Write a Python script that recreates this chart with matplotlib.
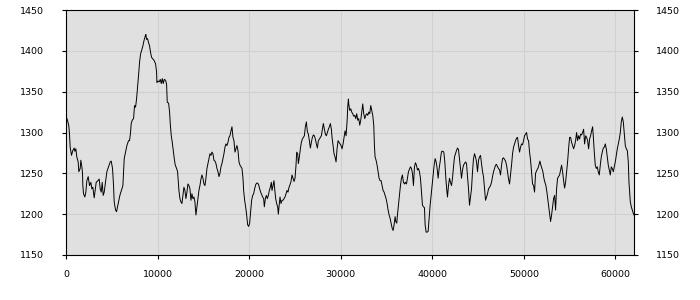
import matplotlib
matplotlib.use("Agg")
import matplotlib.pyplot as plt

# valores (posição, valor)
x = [0, 164, 310, 383, 456, 601, 747, 893, 966, 1075, 1184, 1330, 1403, 1549, 1621, 1731, 1803, 1840,
     1913, 2058, 2168, 2277, 2423, 2569, 2714, 2824, 2933, 3079, 3188, 3297, 3479, 3625, 3734, 3844,
     3953, 4062, 4172, 4317, 4463, 4645, 4827, 4937, 5082, 5192, 5264, 5410, 5519, 5665, 5774, 5884,
     5993, 6102, 6212, 6357, 6503, 6649, 6831, 6940, 7050, 7122, 7232, 7377, 7487, 7596, 7705, 7814,
     7924, 8033, 8142, 8288, 8397, 8507, 8652, 8725, 8798, 8907, 9017, 9126, 9236, 9345, 9490, 9636,
     9782, 9891, 9928, 10037, 10183,
     10292, 10402, 10511, 10620, 10730, 10875, 10985, 11057, 11203, 11312, 11385, 11495, 11604, 11713,
     11823, 11932, 12078, 12187, 12260, 12333, 12442, 12551, 12660, 12770, 12879, 12988, 13098, 13207,
     13316, 13425, 13535, 13644, 13753, 13863, 13972, 14081, 14190, 14300, 14409, 14518, 14628, 14737,
     14846, 14955, 15065, 15174, 15283, 15393, 15502, 15611, 15721, 15830, 15939, 16048, 16158, 16267,
     16376, 16486, 16595, 16704, 16813, 16923, 17032, 17141, 17251, 17360, 17469, 17578, 17688, 17797,
     17906, 18016, 18125, 18234, 18343, 18453, 18562, 18671, 18781, 18890, 18999, 19108, 19218, 19327,
     19400, 19509, 19619, 19728, 19837, 19946, 20056, 20165, 20274, 20384, 20493,
     20603, 20712, 20821, 20931, 21040, 21149, 21259, 21368, 21477, 21586, 21659, 21769, 21878, 21987,
     22097, 22206, 22315, 22424, 22497, 22607, 22716, 22789, 22898, 23007, 23117, 23189, 23262, 23372,
     23481, 23590, 23699, 23809, 23918, 24027, 24137, 24246, 24355, 24464, 24574, 24683, 24792, 24902,
     25011, 25120, 25193, 25302, 25375, 25484, 25594, 25703, 25812, 25922, 26031, 26140, 26250, 26359,
     26468, 26577, 26687, 26796, 26905, 27015, 27124, 27233, 27342, 27452, 27561, 27670, 27780, 27889,
     27998, 28107, 28217, 28326, 28435, 28545, 28654, 28763, 28872, 28982, 29055, 29164, 29273, 29383,
     29492, 29601, 29710, 29820, 29929, 30038, 30148, 30257, 30366, 30475, 30585, 30694, 30767,
     30840, 30877, 30986, 31095, 31205, 31314, 31423, 31533, 31642, 31751, 31860, 31970, 32079, 32188,
     32298, 32407, 32516, 32626, 32735, 32844, 32953, 33063, 33172, 33281, 33391, 33500, 33609, 33682,
     33755, 33864, 33973, 34083, 34192, 34301, 34411, 34520, 34629, 34738, 34848, 34957, 35066, 35176,
     35285, 35394, 35503, 35613, 35722, 35831, 35941, 36014, 36123, 36196, 36305, 36414, 36524, 36633,
     36742, 36852, 36961, 37070, 37180, 37289, 37398, 37507, 37617, 37726, 37835, 37945, 38054, 38163,
     38272, 38382, 38491, 38600, 38709, 38819, 38928, 39037, 39146, 39219, 39329, 39438, 39547, 39657,
     39766, 39875, 39985, 40094, 40203, 40312, 40422, 40531, 40640, 40750, 40859, 40968, 41041,
     41152, 41261, 41370, 41480, 41589, 41662, 41771, 41880, 41990, 42099, 42208, 42318, 42427, 42536,
     42646, 42755, 42864, 42973, 43083, 43192, 43301, 43411, 43520, 43629, 43738, 43848, 43957, 44066,
     44176, 44285, 44394, 44503, 44613, 44722, 44831, 44941, 45050, 45159, 45268, 45378, 45487, 45596,
     45706, 45815, 45924, 46033, 46143, 46252, 46361, 46471, 46580, 46689, 46799, 46908, 47017, 47126,
     47236, 47345, 47454, 47564, 47673, 47782, 47891, 48001, 48110, 48219, 48329, 48438, 48547, 48656,
     48766, 48875, 48984, 49094, 49203, 49312, 49421, 49531, 49640, 49749, 49859, 49968, 50077, 50187,
     50296, 50405, 50514, 50624, 50733, 50842, 50952, 51061, 51170, 51279,
     51426, 51535, 51644, 51754, 51863, 51972, 52082, 52191, 52300, 52409, 52519, 52628, 52737, 52847,
     52920, 53029, 53138, 53247, 53357, 53466, 53575, 53685, 53794, 53903, 54012, 54122, 54231, 54340,
     54450, 54559, 54668, 54777, 54887, 54996, 55105, 55215, 55324, 55433, 55542, 55652, 55761, 55870,
     55980, 56089, 56198, 56307, 56417, 56526, 56635, 56745, 56854, 56963, 57073, 57182, 57291, 57400,
     57510, 57583, 57692, 57801, 57911, 58020, 58129, 58238, 58348, 58457, 58566, 58676, 58785, 58894,
     59003, 59113, 59222, 59331, 59440, 59550, 59659, 59768, 59878, 59987, 60096, 60206, 60315, 60424,
     60534, 60643, 60752, 60861, 60971, 61080, 61189, 61298, 61408, 61481, 61554, 61627, 61736, 61845,
     61955, 62027]

y = [1320, 1315, 1308, 1298, 1282, 1272, 1278, 1281, 1277, 1280, 1270, 1264, 1252, 1256, 1266, 1258, 1250, 1235,
     1225, 1221, 1227, 1241, 1246, 1235, 1239, 1231, 1233, 1220, 1229, 1239, 1241, 1243, 1231, 1227,
     1239, 1223, 1227, 1239, 1252, 1258, 1264, 1265, 1256, 1235, 1215, 1205, 1203, 1211, 1217, 1223,
     1227, 1231, 1235, 1268, 1276, 1284, 1290, 1290, 1300, 1311, 1315, 1317, 1333, 1331, 1341, 1355,
     1370, 1386, 1396, 1402, 1406, 1412, 1418, 1420, 1414, 1415, 1410, 1406, 1398, 1392, 1390, 1388,
     1384, 1374, 1361, 1363, 1362,
     1365, 1360, 1366, 1360, 1365, 1364, 1359, 1337, 1336, 1325, 1311, 1296, 1288, 1278,
     1268, 1260, 1256, 1252, 1241, 1229, 1219, 1215, 1213, 1223, 1233, 1229, 1219, 1227,
     1237, 1235, 1231, 1217, 1225, 1219, 1221, 1215, 1199, 1209, 1219, 1229, 1235, 1243,
     1248, 1244, 1237, 1235, 1244, 1256, 1262, 1268, 1274, 1272, 1276, 1274, 1266, 1265,
     1262, 1256, 1252, 1246, 1250, 1258, 1262, 1268, 1274, 1282, 1286, 1284, 1288, 1294,
     1296, 1302, 1307, 1294, 1290, 1276, 1280, 1284, 1278, 1264, 1260, 1258, 1256, 1244,
     1229, 1217, 1209, 1199, 1187, 1185, 1189, 1203, 1217, 1223, 1225,
     1231, 1236, 1238, 1238, 1236, 1231, 1227, 1224, 1221, 1219, 1209, 1219, 1223, 1219,
     1223, 1229, 1233, 1239, 1229, 1235, 1241, 1231, 1219, 1213, 1209, 1200, 1209, 1221,
     1213, 1217, 1217, 1219, 1221, 1225, 1229, 1227, 1233, 1236, 1240, 1248, 1244, 1240,
     1244, 1260, 1276, 1274, 1262, 1270, 1280, 1288, 1292, 1294, 1296, 1307, 1313, 1301,
     1298, 1290, 1281, 1288, 1294, 1297, 1296, 1292, 1286, 1281, 1290, 1292, 1294, 1296,
     1304, 1311, 1304, 1298, 1296, 1300, 1304, 1307, 1311, 1304, 1294, 1284, 1274, 1270,
     1264, 1280, 1290, 1288, 1286, 1284, 1280, 1286, 1294, 1302, 1296, 1313, 1331,
     1341, 1335, 1327, 1329, 1325, 1323, 1320, 1321, 1317, 1323, 1315, 1317, 1309, 1315,
     1325, 1335, 1323, 1317, 1321, 1323, 1321, 1325, 1323, 1333, 1327, 1321, 1309, 1284,
     1270, 1266, 1260, 1252, 1244, 1241, 1241, 1235, 1229, 1227, 1223, 1219, 1213, 1205,
     1199, 1195, 1189, 1183, 1180, 1187, 1197, 1191, 1189, 1199, 1211, 1223, 1235, 1244,
     1248, 1239, 1237, 1239, 1237, 1244, 1252, 1255, 1258, 1256, 1250, 1235, 1258, 1263,
     1260, 1254, 1256, 1252, 1244, 1227, 1211, 1209, 1208, 1187, 1178, 1178, 1179, 1195,
     1211, 1223, 1235, 1248, 1260, 1268, 1264, 1256, 1244, 1256, 1264, 1274, 1277,
     1277, 1276, 1264, 1244, 1229, 1221, 1235, 1244, 1239, 1235, 1244, 1258, 1270, 1274,
     1278, 1281, 1279, 1268, 1256, 1244, 1254, 1260, 1262, 1264, 1262, 1246, 1231, 1211,
     1221, 1231, 1252, 1268, 1274, 1270, 1264, 1252, 1266, 1270, 1272, 1262, 1252, 1246,
     1231, 1217, 1221, 1225, 1231, 1233, 1235, 1239, 1246, 1252, 1256, 1260, 1261, 1258,
     1256, 1254, 1248, 1260, 1268, 1269, 1267, 1265, 1260, 1252, 1243, 1237, 1248, 1260,
     1274, 1282, 1286, 1290, 1293, 1294, 1284, 1276, 1282, 1286, 1285, 1290, 1296, 1298,
     1300, 1292, 1290, 1276, 1266, 1252, 1237, 1235, 1227, 1250,
     1254, 1256, 1260, 1265, 1260, 1256, 1252, 1244, 1239, 1235, 1227, 1217, 1207, 1197,
     1191, 1199, 1209, 1219, 1223, 1205, 1231, 1244, 1246, 1248, 1254, 1260, 1252, 1241,
     1232, 1239, 1252, 1264, 1280, 1294, 1294, 1288, 1284, 1280, 1284, 1290, 1300, 1290,
     1296, 1292, 1298, 1297, 1300, 1304, 1286, 1296, 1294, 1290, 1280, 1292, 1296, 1302,
     1307, 1296, 1276, 1260, 1256, 1258, 1252, 1248, 1260, 1270, 1276, 1281, 1282, 1286,
     1280, 1270, 1260, 1254, 1248, 1258, 1256, 1252, 1258, 1264, 1272, 1280, 1286, 1292,
     1300, 1313, 1319, 1313, 1298, 1284, 1280, 1278, 1264, 1239, 1227, 1215, 1209, 1205,
     1201, 1199]

yticks = [1150, 1200, 1250, 1300, 1350, 1400, 1450]
xticks = [0, 10000, 20000, 30000, 40000, 50000, 60000]

fig = plt.figure(figsize=(7, 3), dpi=100)
ax = fig.add_axes([66 / 700, 45 / 300, 568 / 700, 245 / 300])
ax.set_facecolor("#e0e0e0")
ax.plot(x, y, color="black", linewidth=0.7)

ax.set_xlim(0, 62030)
ax.set_ylim(1150, 1450)
ax.set_xticks(xticks)
ax.set_yticks(yticks)
ax.grid(True, color="#d0d0d0", linewidth=0.8)
ax.set_axisbelow(True)

for s in ax.spines.values():
    s.set_color("black")
    s.set_linewidth(0.8)

ax.tick_params(axis="both", direction="out", length=3, width=0.8, labelsize=6.8, colors="black")
ax.tick_params(axis="x", pad=8)
ax.tick_params(axis="y", left=True, right=True, labelleft=True, labelright=True, pad=13)

fig.savefig("out.png", dpi=100)
